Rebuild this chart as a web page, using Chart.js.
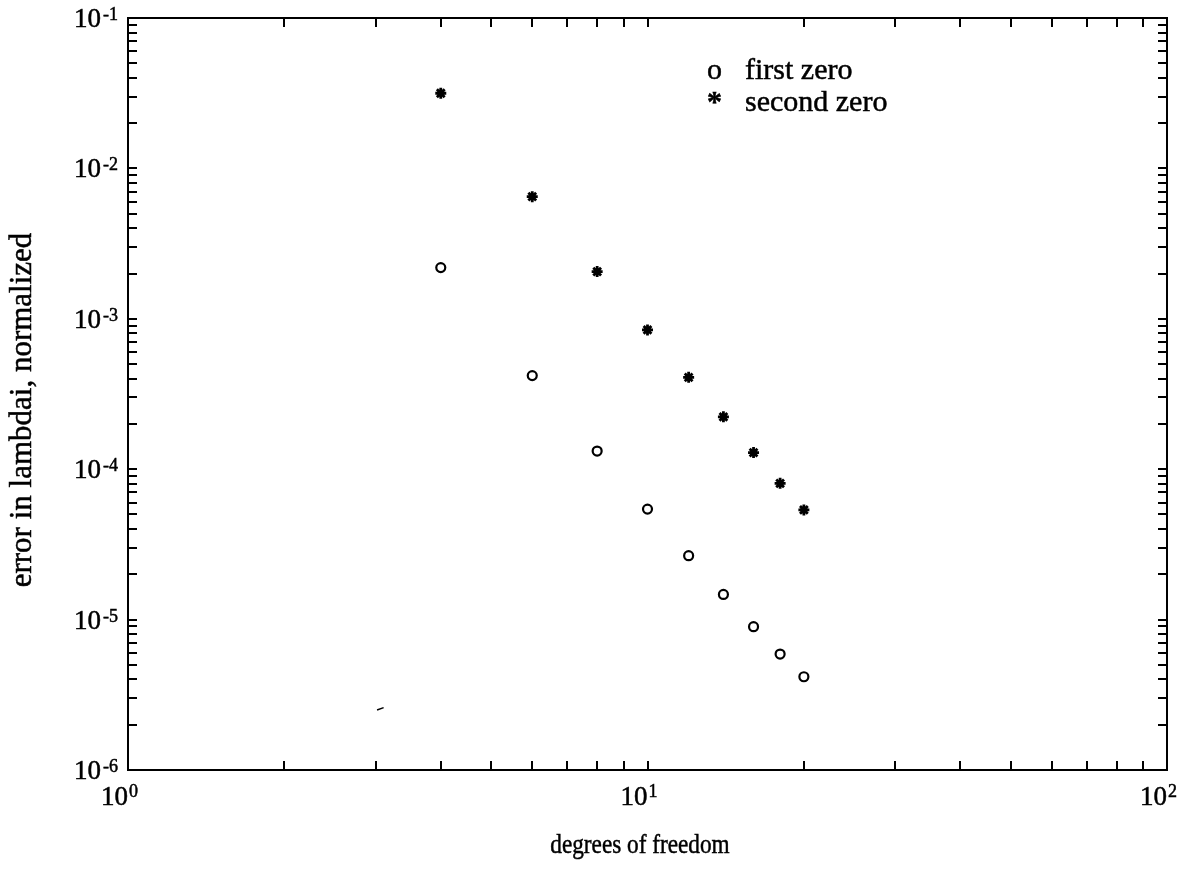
<!DOCTYPE html>
<html>
<head>
<meta charset="utf-8">
<script src="https://cdn.jsdelivr.net/npm/chart.js@4/dist/chart.umd.min.js"></script>
<style>
  html, body { margin: 0; padding: 0; background: #fff; }
  canvas { display: block; }
</style>
</head>
<body>
<canvas id="errPlot" width="1185" height="879"></canvas>
<script>
// degrees of freedom on x, normalized error of the eigenvalue on y
const dof = [4, 6, 8, 10, 12, 14, 16, 18, 20];
const firstZero = [2.19e-3, 4.19e-4, 1.32e-4, 5.43e-5, 2.66e-5, 1.47e-5, 8.97e-6, 5.90e-6, 4.17e-6];
const secondZero = [3.16e-2, 6.49e-3, 2.06e-3, 8.43e-4, 4.08e-4, 2.23e-4, 1.29e-4, 8.05e-5, 5.36e-5];
// stray dash near the bottom left
const strayX = [3.06];
const strayY = [2.55e-6];

const xDecades = [0, 1, 2];
const yDecades = [-6, -5, -4, -3, -2, -1];
const legendLabels = ['first zero', 'second zero'];
const legendGlyphs = ['o', '*'];
const xTitle = 'degrees of freedom';
const yTitle = 'error in lambdai, normalized';

const FONT = '"Liberation Serif", "Times New Roman", serif';

function pairs(xs, ys) {
  return xs.map((x, i) => ({ x: x, y: ys[i] }));
}

// slightly heavier text, like a printed page
function ink(ctx, txt, x, y) {
  ctx.fillText(txt, x, y);
  ctx.strokeText(txt, x, y);
}

// box, inward ticks, power-of-ten labels, titles and legend
const matlabAxes = {
  id: 'matlabAxes',
  afterDraw(chart) {
    const ctx = chart.ctx;
    const xs = chart.scales.x, ys = chart.scales.y;
    const a = chart.chartArea;
    const tick = 9;
    ctx.save();
    ctx.strokeStyle = '#000';
    ctx.fillStyle = '#000';
    ctx.lineWidth = 2;
    ctx.strokeRect(a.left, a.top, a.right - a.left, a.bottom - a.top);

    ctx.beginPath();
    for (let e = xDecades[0]; e < xDecades[xDecades.length - 1]; e++) {
      for (let k = 1; k <= 9; k++) {
        const px = Math.round(xs.getPixelForValue(k * Math.pow(10, e)));
        ctx.moveTo(px, a.bottom); ctx.lineTo(px, a.bottom - tick);
        ctx.moveTo(px, a.top); ctx.lineTo(px, a.top + tick);
      }
    }
    for (let e = yDecades[0]; e < yDecades[yDecades.length - 1]; e++) {
      for (let k = 1; k <= 9; k++) {
        const py = Math.round(ys.getPixelForValue(k * Math.pow(10, e)));
        ctx.moveTo(a.left, py); ctx.lineTo(a.left + tick, py);
        ctx.moveTo(a.right, py); ctx.lineTo(a.right - tick, py);
      }
    }
    ctx.stroke();

    ctx.lineWidth = 0.5;
    const big = '27px ' + FONT, small = '18px ' + FONT;
    // x tick labels: "10" ends at the tick, exponent follows
    xDecades.forEach(e => {
      const px = xs.getPixelForValue(Math.pow(10, e));
      ctx.font = big; ctx.textAlign = 'right'; ctx.textBaseline = 'alphabetic';
      ink(ctx, '10', px, a.bottom + 35);
      ctx.font = small; ctx.textAlign = 'left';
      ink(ctx, String(e), px + 1, a.bottom + 27);
    });
    // y tick labels, right aligned to the left of the box
    yDecades.forEach(e => {
      const py = ys.getPixelForValue(Math.pow(10, e));
      ctx.font = small; ctx.textAlign = 'right'; ctx.textBaseline = 'alphabetic';
      const ex = String(e);
      const w = ctx.measureText(ex).width;
      ink(ctx, ex, a.left - 10, py + 2);
      ctx.font = big;
      ink(ctx, '10', a.left - 12 - w, py + 9);
    });

    // x title, a little condensed
    ctx.save();
    ctx.font = '28px ' + FONT;
    ctx.textAlign = 'center';
    ctx.translate(640, 853);
    ctx.scale(0.83, 1);
    ink(ctx, xTitle, 0, 0);
    ctx.restore();

    ctx.save();
    ctx.translate(31, 410);
    ctx.rotate(-Math.PI / 2);
    ctx.font = '31px ' + FONT;
    ctx.textAlign = 'center';
    ink(ctx, yTitle, 0, 0);
    ctx.restore();

    ctx.textAlign = 'left';
    legendLabels.forEach((lab, i) => {
      const by = 79 + i * 32;
      ctx.font = (i ? 'bold ' : '') + '30px ' + FONT;
      ink(ctx, legendGlyphs[i], 707, by);
      ctx.font = '30px ' + FONT;
      ink(ctx, lab, 745, by);
    });
    ctx.restore();
  }
};

new Chart(document.getElementById('errPlot').getContext('2d'), {
  type: 'scatter',
  data: {
    datasets: [
      {
        label: legendLabels[0],
        data: pairs(dof, firstZero),
        pointStyle: 'circle',
        pointRadius: 4.5,
        borderWidth: 2.2,
        borderColor: '#000',
        backgroundColor: 'rgba(0,0,0,0)'
      },
      {
        label: legendLabels[1],
        data: pairs(dof, secondZero),
        pointStyle: 'star',
        pointRadius: 5.5,
        borderWidth: 2.8,
        borderColor: '#000',
        backgroundColor: '#000'
      },
      {
        label: 'stray',
        data: pairs(strayX, strayY),
        pointStyle: 'line',
        pointRadius: 3.5,
        rotation: -20,
        borderWidth: 1.5,
        borderColor: '#000'
      }
    ]
  },
  options: {
    responsive: false,
    animation: false,
    devicePixelRatio: 1,
    layout: { padding: { left: 128, top: 18, right: 18, bottom: 109 } },
    plugins: { legend: { display: false }, tooltip: { enabled: false } },
    scales: {
      x: { type: 'logarithmic', min: 1, max: 100, display: false },
      y: { type: 'logarithmic', min: 1e-6, max: 1e-1, display: false }
    }
  },
  plugins: [matlabAxes]
});
</script>
</body>
</html>
